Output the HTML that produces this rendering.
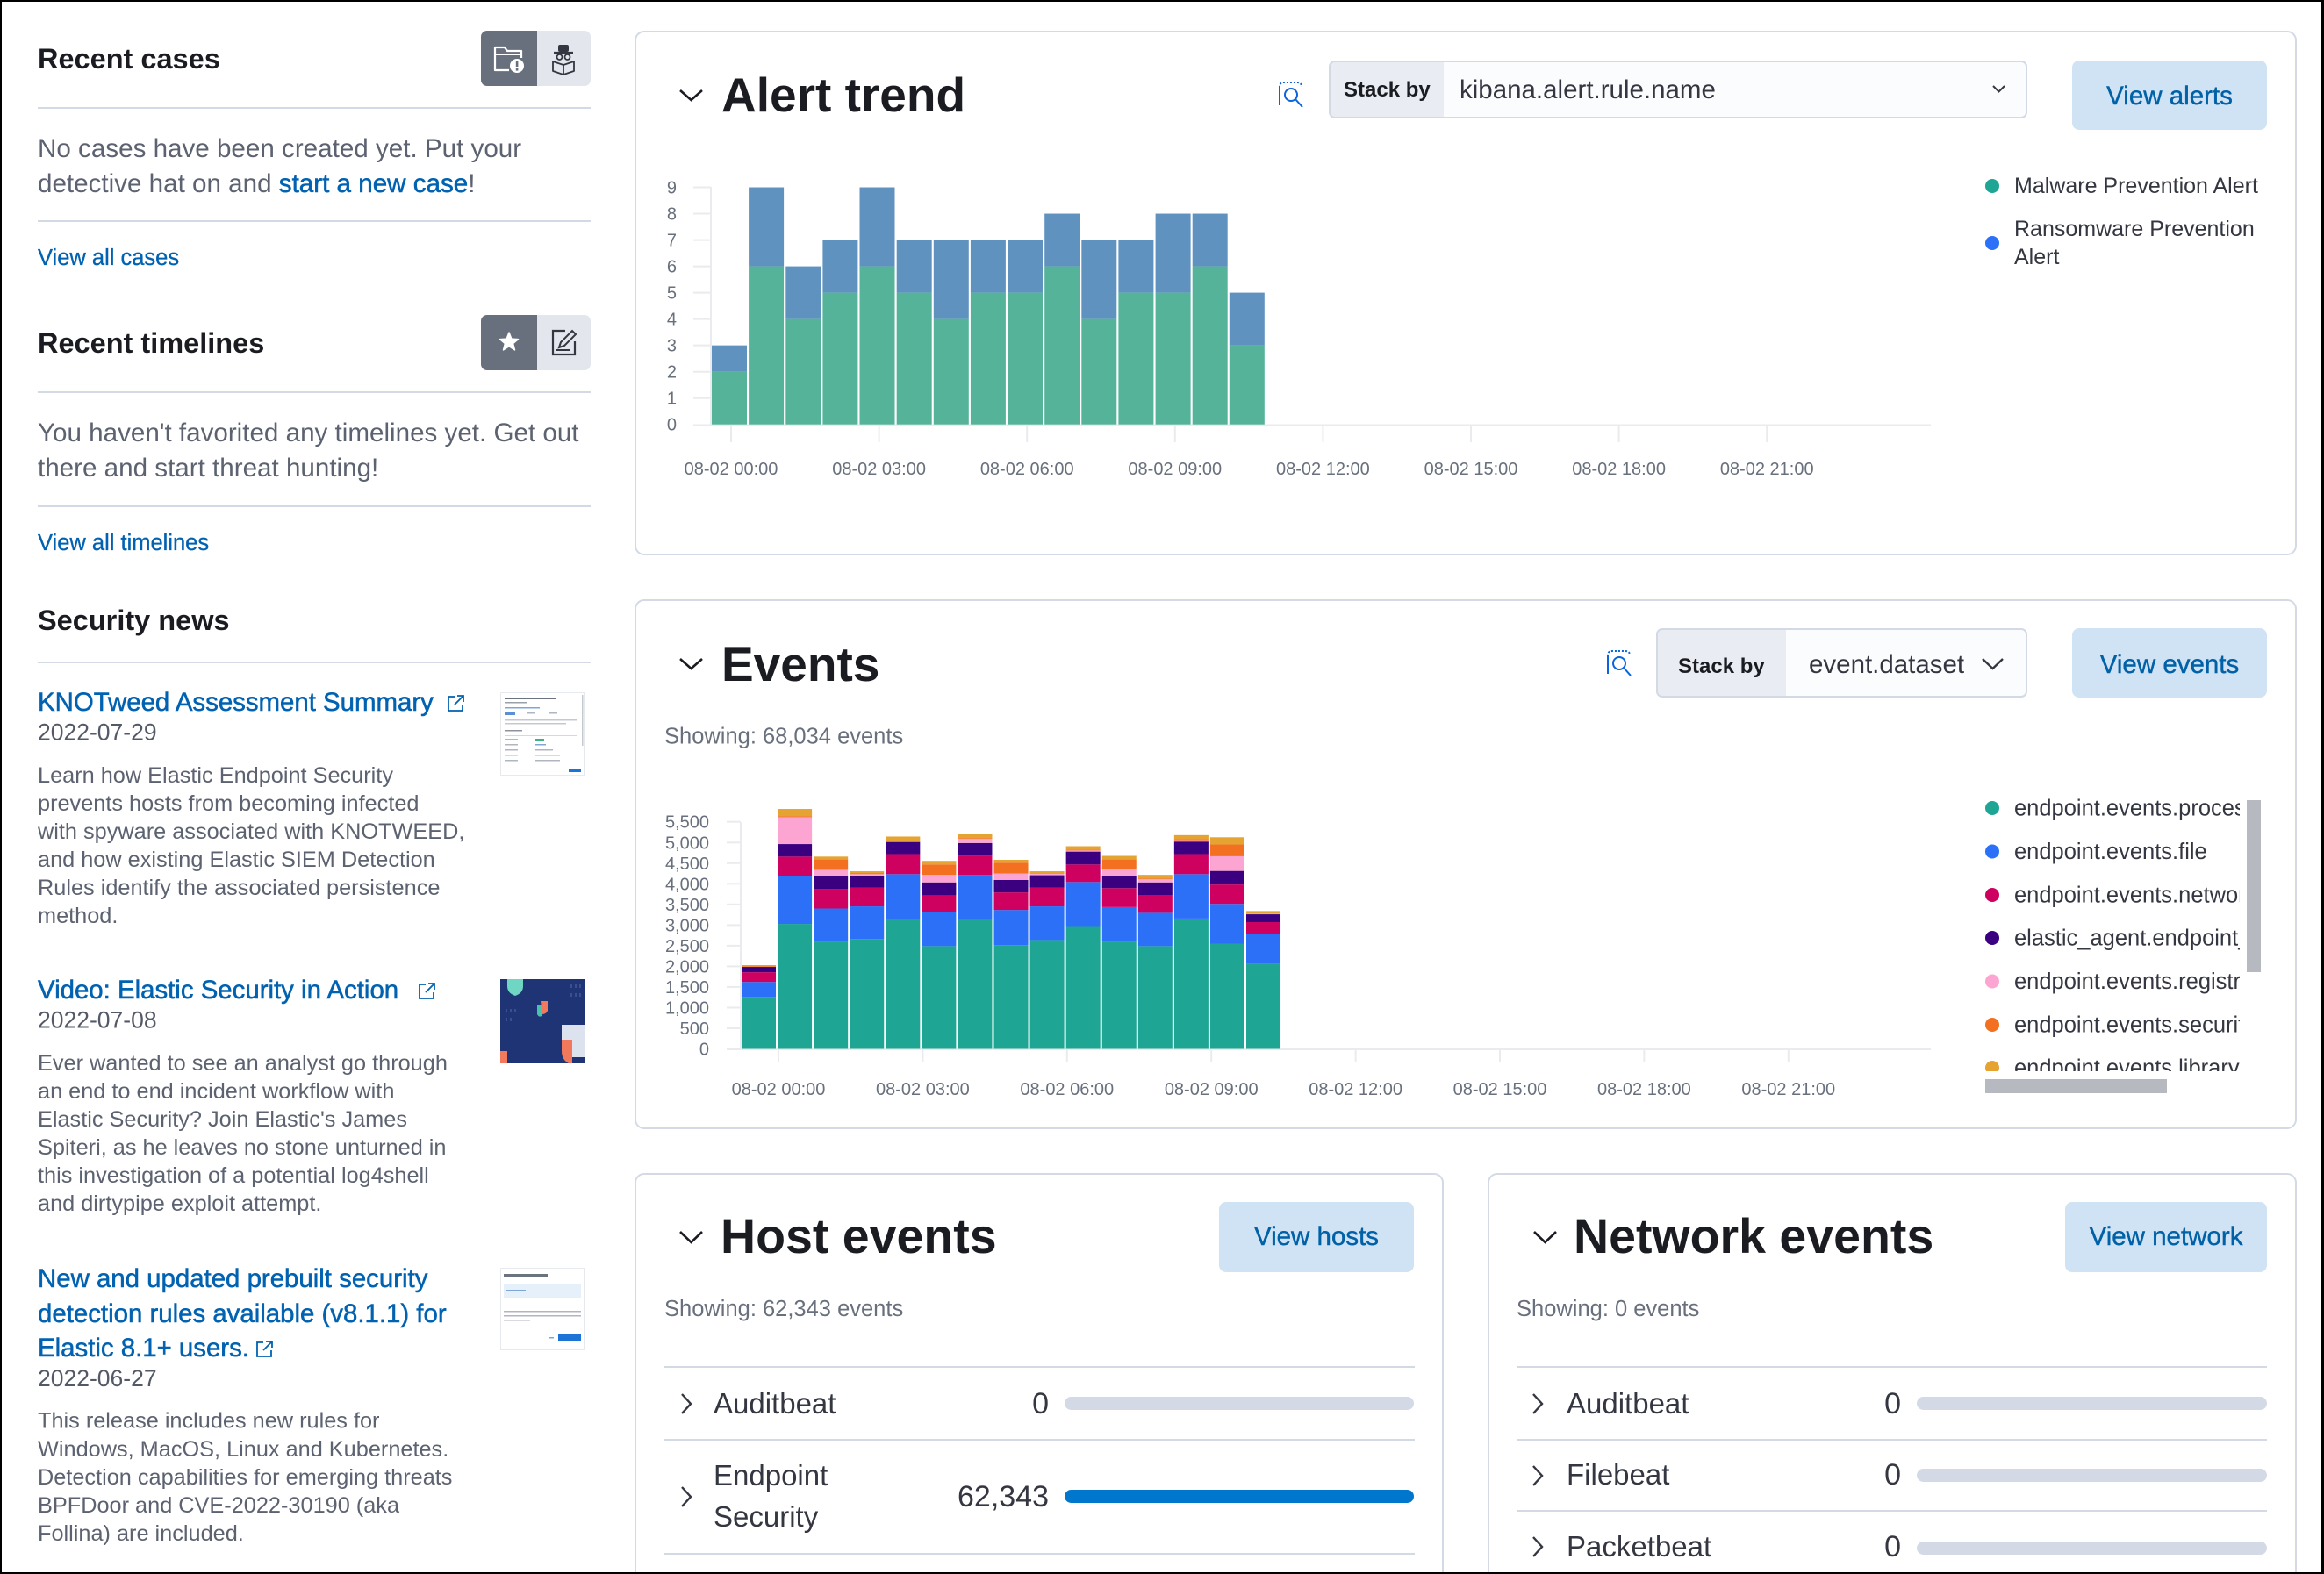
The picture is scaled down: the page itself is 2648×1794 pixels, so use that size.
<!DOCTYPE html>
<html><head><meta charset="utf-8"><style>
html,body{margin:0;padding:0;background:#fff;}
body{width:2648px;height:1794px;overflow:hidden;}
svg{display:block;font-family:"Liberation Sans",Arial,sans-serif;}
</style></head><body>
<svg width="2648" height="1794" viewBox="0 0 2648 1794" xmlns="http://www.w3.org/2000/svg">
<defs>
<clipPath id="legclip"><rect x="2250" y="895" width="302" height="326"/></clipPath>
</defs>
<rect width="2648" height="1794" fill="#fff"/>

<!-- ================= LEFT COLUMN ================= -->
<text x="43" y="78" font-size="32.5" font-weight="bold" fill="#1A1C21">Recent cases</text>
<rect x="548" y="35" width="125" height="63" rx="7" fill="#E3E7ED"/>
<path d="M555,35 H612 V98 H555 A7,7 0 0 1 548,91 V42 A7,7 0 0 1 555,35 Z" fill="#69707D"/>
<path d="M580,80 H564 V54 H575 L578,58 H594 V66" fill="none" stroke="#fff" stroke-width="2.2" stroke-linejoin="round"/>
<path d="M564,62 H594" stroke="#fff" stroke-width="2"/>
<circle cx="589" cy="75" r="8" fill="#fff"/>
<rect x="587.8" y="69" width="2.6" height="7" fill="#69707D"/>
<rect x="587.8" y="78" width="2.6" height="2.6" fill="#69707D"/>
<rect x="636" y="51" width="12" height="8" rx="2" fill="#343741"/>
<path d="M631,60 H653" stroke="#343741" stroke-width="2.2"/>
<circle cx="637.5" cy="65" r="3" fill="none" stroke="#343741" stroke-width="1.8"/>
<circle cx="646.5" cy="65" r="3" fill="none" stroke="#343741" stroke-width="1.8"/>
<path d="M630,70 L642,74 L654,70 V81 L642,85 L630,81 Z M642,74 V85" fill="none" stroke="#343741" stroke-width="1.8" stroke-linejoin="round"/>

<line x1="43" y1="123" x2="673" y2="123" stroke="#D3DAE6" stroke-width="2"/>
<text x="43" y="179" font-size="29.6" fill="#5C6270">No cases have been created yet. Put your</text>
<text x="43" y="219" font-size="29.6" fill="#5C6270">detective hat on and <tspan fill="#0062B1" stroke="#0062B1" stroke-width="0.5">start a new case</tspan>!</text>
<line x1="43" y1="252" x2="673" y2="252" stroke="#D3DAE6" stroke-width="2"/>
<text x="43" y="302" font-size="25.5" fill="#0062B1" stroke="#0062B1" stroke-width="0.3">View all cases</text>

<text x="43" y="402" font-size="32.5" font-weight="bold" fill="#1A1C21">Recent timelines</text>
<rect x="548" y="359" width="125" height="63" rx="7" fill="#E3E7ED"/>
<path d="M555,359 H612 V422 H555 A7,7 0 0 1 548,415 V366 A7,7 0 0 1 555,359 Z" fill="#69707D"/>
<polygon points="580,379 582.8,386.1 590.5,386.6 584.6,391.5 586.5,398.9 580,394.8 573.5,398.9 575.4,391.5 569.5,386.6 577.2,386.1" fill="#fff" stroke="#fff" stroke-width="1.5" stroke-linejoin="round"/>
<path d="M644,377 H630 V404 H655 V389" fill="none" stroke="#343741" stroke-width="2.2"/>
<path d="M637,396 L639,390 L652,377 L656,381 L643,394 Z" fill="none" stroke="#343741" stroke-width="2"/>
<path d="M634,399 H650" stroke="#343741" stroke-width="2"/>

<line x1="43" y1="447" x2="673" y2="447" stroke="#D3DAE6" stroke-width="2"/>
<text x="43" y="503" font-size="29.6" fill="#5C6270">You haven't favorited any timelines yet. Get out</text>
<text x="43" y="543" font-size="29.6" fill="#5C6270">there and start threat hunting!</text>
<line x1="43" y1="577" x2="673" y2="577" stroke="#D3DAE6" stroke-width="2"/>
<text x="43" y="627" font-size="25.5" fill="#0062B1" stroke="#0062B1" stroke-width="0.3">View all timelines</text>

<text x="43" y="718" font-size="32.5" font-weight="bold" fill="#1A1C21">Security news</text>
<line x1="43" y1="755" x2="673" y2="755" stroke="#D3DAE6" stroke-width="2"/>

<!-- news 1 -->
<text x="43" y="810" font-size="29.4" fill="#0062B1" stroke="#0062B1" stroke-width="0.5">KNOTweed Assessment Summary</text>
<g fill="none" stroke="#0062B1" stroke-width="1.8">
<path d="M518,794 H511 V810 H527 V803"/><path d="M518,803 L528,793 M521,793 H528 V800"/>
</g>
<text x="43" y="843.5" font-size="26.5" fill="#535966">2022-07-29</text>
<g font-size="25.3" fill="#5C6270">
<text x="43" y="892">Learn how Elastic Endpoint Security</text>
<text x="43" y="924">prevents hosts from becoming infected</text>
<text x="43" y="956">with spyware associated with KNOTWEED,</text>
<text x="43" y="988">and how existing Elastic SIEM Detection</text>
<text x="43" y="1020">Rules identify the associated persistence</text>
<text x="43" y="1052">method.</text>
</g>
<rect x="570.5" y="789.5" width="95" height="94" fill="#fff" stroke="#E6E9EE" stroke-width="1"/>
<rect x="575" y="795" width="58" height="2" fill="#6b7280"/>
<rect x="575" y="800" width="25" height="1.5" fill="#9aa1ab"/>
<rect x="575" y="806" width="40" height="1.5" fill="#7da7d9"/>
<rect x="575" y="812" width="12" height="3" fill="#5c8fd6"/>
<rect x="600" y="812" width="10" height="1.5" fill="#b0b6bf"/>
<rect x="625" y="812" width="10" height="1.5" fill="#b0b6bf"/>
<rect x="575" y="820" width="82" height="1.5" fill="#c4c9d0"/>
<rect x="575" y="824" width="70" height="1.5" fill="#c4c9d0"/>
<rect x="575" y="832" width="20" height="1.5" fill="#8d939c"/>
<rect x="575" y="838" width="82" height="1" fill="#d5d9de"/>
<rect x="575" y="842" width="15" height="1.5" fill="#b0b6bf"/><rect x="610" y="842" width="10" height="3" fill="#3fb37f"/>
<rect x="575" y="848" width="15" height="1.5" fill="#b0b6bf"/><rect x="610" y="848" width="12" height="1.5" fill="#7da7d9"/>
<rect x="575" y="854" width="15" height="1.5" fill="#b0b6bf"/><rect x="610" y="854" width="20" height="1.5" fill="#b0b6bf"/>
<rect x="575" y="860" width="15" height="1.5" fill="#b0b6bf"/><rect x="610" y="860" width="28" height="1.5" fill="#b0b6bf"/>
<rect x="575" y="866" width="15" height="1.5" fill="#b0b6bf"/><rect x="610" y="866" width="28" height="1.5" fill="#b0b6bf"/>
<rect x="663" y="792" width="1.5" height="58" fill="#c4c9d0"/>
<rect x="648" y="876" width="14" height="4" fill="#1E73D6"/>

<!-- news 2 -->
<text x="43" y="1138" font-size="29.4" fill="#0062B1" stroke="#0062B1" stroke-width="0.5">Video: Elastic Security in Action</text>
<g fill="none" stroke="#0062B1" stroke-width="1.8">
<path d="M485,1122 H478 V1138 H494 V1131"/><path d="M485,1131 L495,1121 M488,1121 H495 V1128"/>
</g>
<text x="43" y="1171.6" font-size="26.5" fill="#535966">2022-07-08</text>
<g font-size="25.3" fill="#5C6270">
<text x="43" y="1220">Ever wanted to see an analyst go through</text>
<text x="43" y="1252">an end to end incident workflow with</text>
<text x="43" y="1284">Elastic Security? Join Elastic's James</text>
<text x="43" y="1316">Spiteri, as he leaves no stone unturned in</text>
<text x="43" y="1348">this investigation of a potential log4shell</text>
<text x="43" y="1380">and dirtypipe exploit attempt.</text>
</g>
<rect x="570" y="1116" width="96" height="96" fill="#1F3474"/>
<path d="M578,1116 H596 V1124 Q596,1132 587,1135 Q578,1132 578,1124 Z" fill="#6FD6C4"/>
<path d="M616,1141 H624 V1152 Q622,1156 618,1156 Z" fill="#F2795C"/>
<path d="M612,1146 H617 V1158 Q614,1160 612,1156 Z" fill="#48C1AE"/>
<path d="M640,1168 H666 V1205 H650 Q640,1200 640,1190 Z" fill="#DDE3EE"/>
<path d="M640,1185 H652 V1212 H648 Q640,1208 640,1198 Z" fill="#F2795C"/>
<path d="M570,1198 H578 V1212 H570 Z" fill="#F2795C"/>
<g fill="#3a4f8f"><rect x="576" y="1150" width="2" height="4"/><rect x="581" y="1150" width="2" height="4"/><rect x="586" y="1150" width="2" height="4"/><rect x="576" y="1160" width="2" height="4"/><rect x="581" y="1160" width="2" height="4"/><rect x="650" y="1122" width="2" height="4"/><rect x="655" y="1122" width="2" height="4"/><rect x="660" y="1122" width="2" height="4"/><rect x="650" y="1132" width="2" height="4"/><rect x="655" y="1132" width="2" height="4"/><rect x="660" y="1132" width="2" height="4"/></g>

<!-- news 3 -->
<g font-size="29.4" fill="#0062B1" stroke="#0062B1" stroke-width="0.5">
<text x="43" y="1467">New and updated prebuilt security</text>
<text x="43" y="1507">detection rules available (v8.1.1) for</text>
<text x="43" y="1546">Elastic 8.1+ users.</text>
</g>
<g fill="none" stroke="#0062B1" stroke-width="1.8">
<path d="M300,1530 H293 V1546 H309 V1539"/><path d="M300,1539 L310,1529 M303,1529 H310 V1536"/>
</g>
<text x="43" y="1580" font-size="26.5" fill="#535966">2022-06-27</text>
<g font-size="25.3" fill="#5C6270">
<text x="43" y="1627.5">This release includes new rules for</text>
<text x="43" y="1660">Windows, MacOS, Linux and Kubernetes.</text>
<text x="43" y="1692">Detection capabilities for emerging threats</text>
<text x="43" y="1724">BPFDoor and CVE-2022-30190 (aka</text>
<text x="43" y="1756">Follina) are included.</text>
</g>
<rect x="570.5" y="1445.5" width="95" height="93" fill="#fff" stroke="#E6E9EE" stroke-width="1"/>
<rect x="574" y="1452" width="50" height="3" fill="#6b7280"/>
<rect x="574" y="1463" width="88" height="16" fill="#E6F0FA"/>
<rect x="577" y="1470" width="22" height="1.5" fill="#7da7d9"/>
<rect x="574" y="1494" width="88" height="1.5" fill="#b0b6bf"/>
<rect x="574" y="1499" width="88" height="1.5" fill="#b0b6bf"/>
<rect x="574" y="1504" width="30" height="1.5" fill="#b0b6bf"/>
<rect x="636" y="1520" width="26" height="9" fill="#1E73D6"/>
<rect x="626" y="1524" width="5" height="1.5" fill="#7da7d9"/>

<!-- ================= ALERT TREND PANEL ================= -->
<rect x="724" y="36" width="1892" height="596" rx="10" fill="#fff" stroke="#D3DAE6" stroke-width="2"/>
<polyline points="775,103 787.5,114 800,103" fill="none" stroke="#1A1C21" stroke-width="2.6"/>
<text x="822" y="127" font-size="55" font-weight="bold" fill="#1A1C21">Alert trend</text>
<g fill="none" stroke="#0B64DD" stroke-width="2">
<path d="M1458,120 V99 Q1458,94 1463,94 H1478 Q1483,94 1483,99" stroke-dasharray="2 2"/>
<path d="M1458,100 V120"/>
<circle cx="1471" cy="108" r="7"/>
<path d="M1476,113 L1484,122"/>
</g>
<rect x="1515" y="70" width="794" height="64" rx="6" fill="#FBFCFD"/>
<path d="M1521,70 H1645 V134 H1521 A6,6 0 0 1 1515,128 V76 A6,6 0 0 1 1521,70 Z" fill="#E9EDF3"/>
<rect x="1515" y="70" width="794" height="64" rx="6" fill="none" stroke="#D3DAE6" stroke-width="2"/>
<text x="1531" y="110" font-size="24" font-weight="bold" fill="#1A1C21">Stack by</text>
<text x="1663" y="112" font-size="29.5" fill="#343741">kibana.alert.rule.name</text>
<polyline points="2271,98 2277.5,104.5 2284,98" fill="none" stroke="#343741" stroke-width="2"/>
<rect x="2361" y="69" width="222" height="79" rx="8" fill="#D0E3F5"/>
<text x="2472" y="119" font-size="29.5" fill="#0061A6" stroke="#0061A6" stroke-width="0.4" text-anchor="middle">View alerts</text>

<g stroke="#E9EBEE" stroke-width="2">
<line x1="790" y1="484.5" x2="2200" y2="484.5"/>
<line x1="810" y1="213" x2="810" y2="484"/>
<line x1="790" y1="453.7" x2="810" y2="453.7"/><line x1="790" y1="423.7" x2="810" y2="423.7"/>
<line x1="790" y1="393.6" x2="810" y2="393.6"/><line x1="790" y1="363.6" x2="810" y2="363.6"/>
<line x1="790" y1="333.6" x2="810" y2="333.6"/><line x1="790" y1="303.6" x2="810" y2="303.6"/>
<line x1="790" y1="273.6" x2="810" y2="273.6"/><line x1="790" y1="243.5" x2="810" y2="243.5"/>
<line x1="790" y1="213.5" x2="810" y2="213.5"/>
<line x1="833" y1="484" x2="833" y2="504"/><line x1="1001.6" y1="484" x2="1001.6" y2="504"/>
<line x1="1170.2" y1="484" x2="1170.2" y2="504"/><line x1="1338.8" y1="484" x2="1338.8" y2="504"/>
<line x1="1507.4" y1="484" x2="1507.4" y2="504"/><line x1="1676" y1="484" x2="1676" y2="504"/>
<line x1="1844.6" y1="484" x2="1844.6" y2="504"/><line x1="2013.2" y1="484" x2="2013.2" y2="504"/>
</g>
<g font-size="20" fill="#69707D" text-anchor="end">
<text x="771" y="490.7">0</text><text x="771" y="460.7">1</text><text x="771" y="430.7">2</text>
<text x="771" y="400.6">3</text><text x="771" y="370.6">4</text><text x="771" y="340.6">5</text>
<text x="771" y="310.6">6</text><text x="771" y="280.6">7</text><text x="771" y="250.5">8</text>
<text x="771" y="220.5">9</text>
</g>
<g font-size="20" fill="#69707D" text-anchor="middle">
<text x="833" y="541">08-02 00:00</text><text x="1001.6" y="541">08-02 03:00</text>
<text x="1170.2" y="541">08-02 06:00</text><text x="1338.8" y="541">08-02 09:00</text>
<text x="1507.4" y="541">08-02 12:00</text><text x="1676" y="541">08-02 15:00</text>
<text x="1844.6" y="541">08-02 18:00</text><text x="2013.2" y="541">08-02 21:00</text>
</g>
<g transform="translate(0 483.7) scale(1 -30.02)">
<g fill="#54B399">
<rect x="811" y="0" width="40" height="2"/><rect x="853.1" y="0" width="40" height="6"/>
<rect x="895.3" y="0" width="40" height="4"/><rect x="937.4" y="0" width="40" height="5"/>
<rect x="979.5" y="0" width="40" height="6"/><rect x="1021.7" y="0" width="40" height="5"/>
<rect x="1063.8" y="0" width="40" height="4"/><rect x="1105.9" y="0" width="40" height="5"/>
<rect x="1148" y="0" width="40" height="5"/><rect x="1190.2" y="0" width="40" height="6"/>
<rect x="1232.3" y="0" width="40" height="4"/><rect x="1274.4" y="0" width="40" height="5"/>
<rect x="1316.6" y="0" width="40" height="5"/><rect x="1358.7" y="0" width="40" height="6"/>
<rect x="1400.8" y="0" width="40" height="3"/>
</g>
<g fill="#6092C0">
<rect x="811" y="2" width="40" height="1"/><rect x="853.1" y="6" width="40" height="3"/>
<rect x="895.3" y="4" width="40" height="2"/><rect x="937.4" y="5" width="40" height="2"/>
<rect x="979.5" y="6" width="40" height="3"/><rect x="1021.7" y="5" width="40" height="2"/>
<rect x="1063.8" y="4" width="40" height="3"/><rect x="1105.9" y="5" width="40" height="2"/>
<rect x="1148" y="5" width="40" height="2"/><rect x="1190.2" y="6" width="40" height="2"/>
<rect x="1232.3" y="4" width="40" height="3"/><rect x="1274.4" y="5" width="40" height="2"/>
<rect x="1316.6" y="5" width="40" height="3"/><rect x="1358.7" y="6" width="40" height="2"/>
<rect x="1400.8" y="3" width="40" height="2"/>
</g>
</g>
<circle cx="2270" cy="212" r="8" fill="#1EA593"/>
<text x="2295" y="220" font-size="25" fill="#343741">Malware Prevention Alert</text>
<circle cx="2270" cy="277" r="8" fill="#2B70F7"/>
<text x="2295" y="269" font-size="25" fill="#343741">Ransomware Prevention</text>
<text x="2295" y="301" font-size="25" fill="#343741">Alert</text>

<!-- ================= EVENTS PANEL ================= -->
<rect x="724" y="684" width="1892" height="602" rx="10" fill="#fff" stroke="#D3DAE6" stroke-width="2"/>
<polyline points="775,751 787.5,762 800,751" fill="none" stroke="#1A1C21" stroke-width="2.6"/>
<text x="822" y="776" font-size="55" font-weight="bold" fill="#1A1C21">Events</text>
<g fill="none" stroke="#0B64DD" stroke-width="2">
<path d="M1832,768 V747 Q1832,742 1837,742 H1852 Q1857,742 1857,747" stroke-dasharray="2 2"/>
<path d="M1832,748 V768"/>
<circle cx="1845" cy="756" r="7"/>
<path d="M1850,761 L1858,770"/>
</g>
<rect x="1888" y="717" width="421" height="77" rx="6" fill="#FBFCFD"/>
<path d="M1894,717 H2035 V794 H1894 A6,6 0 0 1 1888,788 V723 A6,6 0 0 1 1894,717 Z" fill="#E9EDF3"/>
<rect x="1888" y="717" width="421" height="77" rx="6" fill="none" stroke="#D3DAE6" stroke-width="2"/>
<text x="1912" y="767" font-size="24" font-weight="bold" fill="#1A1C21">Stack by</text>
<text x="2061" y="767" font-size="29.5" fill="#343741">event.dataset</text>
<polyline points="2259,751 2270.5,762 2282,751" fill="none" stroke="#343741" stroke-width="2.4"/>
<rect x="2361" y="716" width="222" height="79" rx="8" fill="#D0E3F5"/>
<text x="2472" y="767" font-size="29.5" fill="#0061A6" stroke="#0061A6" stroke-width="0.4" text-anchor="middle">View events</text>
<text x="757" y="847.5" font-size="25.5" fill="#69707D">Showing: 68,034 events</text>

<g stroke="#E9EBEE" stroke-width="2">
<line x1="828" y1="1196" x2="2200" y2="1196"/>
<line x1="844" y1="937" x2="844" y2="1195"/>
<line x1="828" y1="1172" x2="844" y2="1172"/><line x1="828" y1="1148.5" x2="844" y2="1148.5"/>
<line x1="828" y1="1124.9" x2="844" y2="1124.9"/><line x1="828" y1="1101.4" x2="844" y2="1101.4"/>
<line x1="828" y1="1077.9" x2="844" y2="1077.9"/><line x1="828" y1="1054.4" x2="844" y2="1054.4"/>
<line x1="828" y1="1030.8" x2="844" y2="1030.8"/><line x1="828" y1="1007.3" x2="844" y2="1007.3"/>
<line x1="828" y1="983.8" x2="844" y2="983.8"/><line x1="828" y1="960.3" x2="844" y2="960.3"/>
<line x1="828" y1="936.7" x2="844" y2="936.7"/>
<line x1="887" y1="1196" x2="887" y2="1211"/><line x1="1051.4" y1="1196" x2="1051.4" y2="1211"/>
<line x1="1215.8" y1="1196" x2="1215.8" y2="1211"/><line x1="1380.2" y1="1196" x2="1380.2" y2="1211"/>
<line x1="1544.6" y1="1196" x2="1544.6" y2="1211"/><line x1="1709" y1="1196" x2="1709" y2="1211"/>
<line x1="1873.4" y1="1196" x2="1873.4" y2="1211"/><line x1="2037.8" y1="1196" x2="2037.8" y2="1211"/>
</g>
<g font-size="20" fill="#69707D" text-anchor="end">
<text x="808" y="1202.5">0</text><text x="808" y="1179">500</text><text x="808" y="1155.5">1,000</text>
<text x="808" y="1131.9">1,500</text><text x="808" y="1108.4">2,000</text><text x="808" y="1084.9">2,500</text>
<text x="808" y="1061.4">3,000</text><text x="808" y="1037.8">3,500</text><text x="808" y="1014.3">4,000</text>
<text x="808" y="990.8">4,500</text><text x="808" y="967.3">5,000</text><text x="808" y="943.7">5,500</text>
</g>
<g font-size="20" fill="#69707D" text-anchor="middle">
<text x="887" y="1248">08-02 00:00</text><text x="1051.4" y="1248">08-02 03:00</text>
<text x="1215.8" y="1248">08-02 06:00</text><text x="1380.2" y="1248">08-02 09:00</text>
<text x="1544.6" y="1248">08-02 12:00</text><text x="1709" y="1248">08-02 15:00</text>
<text x="1873.4" y="1248">08-02 18:00</text><text x="2037.8" y="1248">08-02 21:00</text>
</g>
<g transform="translate(720 660) scale(0.510204 0.408163)">
<g fill="#1EA593">
<rect x="245" y="1167" width="76.5" height="145"/><rect x="325.5" y="963" width="76.5" height="349"/>
<rect x="406" y="1012" width="76.5" height="300"/><rect x="486.5" y="1005" width="76.5" height="307"/>
<rect x="567" y="949" width="76.5" height="363"/><rect x="647.5" y="1025" width="76.5" height="287"/>
<rect x="728" y="952" width="76.5" height="360"/><rect x="808.5" y="1022" width="76.5" height="290"/>
<rect x="889" y="1008" width="76.5" height="304"/><rect x="969.5" y="969" width="76.5" height="343"/>
<rect x="1050" y="1012" width="76.5" height="300"/><rect x="1130.5" y="1025" width="76.5" height="287"/>
<rect x="1211" y="948" width="76.5" height="364"/><rect x="1291.5" y="1018" width="76.5" height="294"/>
<rect x="1372" y="1074" width="76.5" height="238"/>
</g>
<g fill="#2B70F7">
<rect x="245" y="1125" width="76.5" height="42"/><rect x="325.5" y="830" width="76.5" height="133"/>
<rect x="406" y="920" width="76.5" height="92"/><rect x="486.5" y="914" width="76.5" height="91"/>
<rect x="567" y="824" width="76.5" height="125"/><rect x="647.5" y="930" width="76.5" height="95"/>
<rect x="728" y="826" width="76.5" height="126"/><rect x="808.5" y="924" width="76.5" height="98"/>
<rect x="889" y="914" width="76.5" height="94"/><rect x="969.5" y="846" width="76.5" height="123"/>
<rect x="1050" y="916" width="76.5" height="96"/><rect x="1130.5" y="932" width="76.5" height="93"/>
<rect x="1211" y="824" width="76.5" height="124"/><rect x="1291.5" y="907" width="76.5" height="111"/>
<rect x="1372" y="992" width="76.5" height="82"/>
</g>
<g fill="#CE0060">
<rect x="245" y="1098" width="76.5" height="27"/><rect x="325.5" y="775" width="76.5" height="55"/>
<rect x="406" y="865" width="76.5" height="55"/><rect x="486.5" y="862" width="76.5" height="52"/>
<rect x="567" y="768" width="76.5" height="56"/><rect x="647.5" y="883" width="76.5" height="47"/>
<rect x="728" y="772" width="76.5" height="54"/><rect x="808.5" y="875" width="76.5" height="49"/>
<rect x="889" y="862" width="76.5" height="52"/><rect x="969.5" y="797" width="76.5" height="49"/>
<rect x="1050" y="863" width="76.5" height="53"/><rect x="1130.5" y="882" width="76.5" height="50"/>
<rect x="1211" y="768" width="76.5" height="56"/><rect x="1291.5" y="853" width="76.5" height="54"/>
<rect x="1372" y="958" width="76.5" height="34"/>
</g>
<g fill="#3A007F">
<rect x="245" y="1083" width="76.5" height="15"/><rect x="325.5" y="740" width="76.5" height="35"/>
<rect x="406" y="830" width="76.5" height="35"/><rect x="486.5" y="830" width="76.5" height="32"/>
<rect x="567" y="734" width="76.5" height="34"/><rect x="647.5" y="847" width="76.5" height="36"/>
<rect x="728" y="737" width="76.5" height="35"/><rect x="808.5" y="840" width="76.5" height="35"/>
<rect x="889" y="827" width="76.5" height="35"/><rect x="969.5" y="761" width="76.5" height="36"/>
<rect x="1050" y="829" width="76.5" height="34"/><rect x="1130.5" y="847" width="76.5" height="35"/>
<rect x="1211" y="733" width="76.5" height="35"/><rect x="1291.5" y="815" width="76.5" height="38"/>
<rect x="1372" y="936" width="76.5" height="22"/>
</g>
<g fill="#FCA5D3">
<rect x="325.5" y="665" width="76.5" height="75"/>
<rect x="406" y="812" width="76.5" height="18"/><rect x="486.5" y="824" width="76.5" height="6"/>
<rect x="567" y="733" width="76.5" height="1"/><rect x="647.5" y="826" width="76.5" height="21"/>
<rect x="728" y="725" width="76.5" height="12"/><rect x="808.5" y="822" width="76.5" height="18"/>
<rect x="889" y="823" width="76.5" height="4"/><rect x="969.5" y="758" width="76.5" height="3"/>
<rect x="1050" y="811" width="76.5" height="18"/><rect x="1130.5" y="838" width="76.5" height="9"/>
<rect x="1211" y="729" width="76.5" height="4"/><rect x="1291.5" y="774" width="76.5" height="41"/>
<rect x="1372" y="935" width="76.5" height="1"/>
</g>
<g fill="#F37020">
<rect x="245" y="1081" width="76.5" height="2"/><rect x="325.5" y="662" width="76.5" height="3"/>
<rect x="406" y="783" width="76.5" height="29"/><rect x="486.5" y="821" width="76.5" height="3"/>
<rect x="567" y="731" width="76.5" height="2"/><rect x="647.5" y="797" width="76.5" height="29"/>
<rect x="728" y="723" width="76.5" height="2"/><rect x="808.5" y="792" width="76.5" height="30"/>
<rect x="889" y="822" width="76.5" height="1"/><rect x="969.5" y="756" width="76.5" height="2"/>
<rect x="1050" y="783" width="76.5" height="28"/><rect x="1130.5" y="836" width="76.5" height="2"/>
<rect x="1211" y="726" width="76.5" height="3"/><rect x="1291.5" y="741" width="76.5" height="33"/>
<rect x="1372" y="934" width="76.5" height="1"/>
</g>
<g fill="#E5A331">
<rect x="245" y="1078" width="76.5" height="3"/><rect x="325.5" y="642" width="76.5" height="20"/>
<rect x="406" y="775" width="76.5" height="8"/><rect x="486.5" y="816" width="76.5" height="5"/>
<rect x="567" y="719" width="76.5" height="12"/><rect x="647.5" y="787" width="76.5" height="10"/>
<rect x="728" y="711" width="76.5" height="12"/><rect x="808.5" y="784" width="76.5" height="8"/>
<rect x="889" y="816" width="76.5" height="6"/><rect x="969.5" y="746" width="76.5" height="10"/>
<rect x="1050" y="773" width="76.5" height="10"/><rect x="1130.5" y="826" width="76.5" height="10"/>
<rect x="1211" y="715" width="76.5" height="11"/><rect x="1291.5" y="721" width="76.5" height="20"/>
<rect x="1372" y="927" width="76.5" height="7"/>
</g>
</g>
<g clip-path="url(#legclip)" font-size="25.5" fill="#343741">
<circle cx="2270" cy="921" r="8" fill="#1EA593"/><text x="2295" y="929.5">endpoint.events.process</text>
<circle cx="2270" cy="970.5" r="8" fill="#2B70F7"/><text x="2295" y="979">endpoint.events.file</text>
<circle cx="2270" cy="1020" r="8" fill="#CE0060"/><text x="2295" y="1028.5">endpoint.events.network</text>
<circle cx="2270" cy="1069" r="8" fill="#3A007F"/><text x="2295" y="1077.5">elastic_agent.endpoint_security</text>
<circle cx="2270" cy="1118.5" r="8" fill="#FCA5D3"/><text x="2295" y="1127">endpoint.events.registry</text>
<circle cx="2270" cy="1168" r="8" fill="#F37020"/><text x="2295" y="1176.5">endpoint.events.security</text>
<circle cx="2270" cy="1217" r="8" fill="#E5A331"/><text x="2295" y="1225.5">endpoint.events.library</text>
</g>
<rect x="2560" y="912" width="16" height="196" fill="#B6B9BF"/>
<rect x="2262" y="1230" width="207" height="16" fill="#B6B9BF"/>

<!-- ================= HOST EVENTS ================= -->
<path d="M724,1794 V1348 A10,10 0 0 1 734,1338 H1634 A10,10 0 0 1 1644,1348 V1794" fill="#fff" stroke="#D3DAE6" stroke-width="2"/>
<polyline points="775,1404 787.5,1416 800,1404" fill="none" stroke="#1A1C21" stroke-width="2.6"/>
<text x="821" y="1428" font-size="55.5" font-weight="bold" fill="#1A1C21">Host events</text>
<rect x="1389" y="1370" width="222" height="80" rx="8" fill="#D0E3F5"/>
<text x="1500" y="1419" font-size="29.5" fill="#0061A6" stroke="#0061A6" stroke-width="0.4" text-anchor="middle">View hosts</text>
<text x="757" y="1500" font-size="25.5" fill="#69707D">Showing: 62,343 events</text>
<g stroke="#D3DAE6" stroke-width="2">
<line x1="757" y1="1558" x2="1612" y2="1558"/>
<line x1="757" y1="1641" x2="1612" y2="1641"/>
<line x1="757" y1="1771" x2="1612" y2="1771"/>
</g>
<g fill="none" stroke="#343741" stroke-width="2.4">
<polyline points="777,1589 787,1600 777,1611"/>
<polyline points="777,1695 787,1706 777,1717"/>
</g>
<g font-size="33" fill="#343741">
<text x="813" y="1611">Auditbeat</text>
<text x="813" y="1693">Endpoint</text>
<text x="813" y="1740">Security</text>
</g>
<g font-size="34" fill="#343741" text-anchor="end">
<text x="1195" y="1611">0</text>
<text x="1195" y="1717">62,343</text>
</g>
<rect x="1213" y="1592" width="398" height="15" rx="7.5" fill="#D3DAE6"/>
<rect x="1213" y="1698" width="398" height="15" rx="7.5" fill="#0077CC"/>

<!-- ================= NETWORK EVENTS ================= -->
<path d="M1696,1794 V1348 A10,10 0 0 1 1706,1338 H2606 A10,10 0 0 1 2616,1348 V1794" fill="#fff" stroke="#D3DAE6" stroke-width="2"/>
<polyline points="1748,1404 1760.5,1416 1773,1404" fill="none" stroke="#1A1C21" stroke-width="2.6"/>
<text x="1793" y="1428" font-size="55.5" font-weight="bold" fill="#1A1C21">Network events</text>
<rect x="2353" y="1370" width="230" height="80" rx="8" fill="#D0E3F5"/>
<text x="2468" y="1419" font-size="29.5" fill="#0061A6" stroke="#0061A6" stroke-width="0.4" text-anchor="middle">View network</text>
<text x="1728" y="1500" font-size="25.5" fill="#69707D">Showing: 0 events</text>
<g stroke="#D3DAE6" stroke-width="2">
<line x1="1728" y1="1558" x2="2583" y2="1558"/>
<line x1="1728" y1="1641" x2="2583" y2="1641"/>
<line x1="1728" y1="1722" x2="2583" y2="1722"/>
</g>
<g fill="none" stroke="#343741" stroke-width="2.4">
<polyline points="1747,1589 1757,1600 1747,1611"/>
<polyline points="1747,1671 1757,1682 1747,1693"/>
<polyline points="1747,1752 1757,1763 1747,1774"/>
</g>
<g font-size="33" fill="#343741">
<text x="1785" y="1611">Auditbeat</text>
<text x="1785" y="1692">Filebeat</text>
<text x="1785" y="1774">Packetbeat</text>
</g>
<g font-size="34" fill="#343741" text-anchor="end">
<text x="2166" y="1611">0</text>
<text x="2166" y="1692">0</text>
<text x="2166" y="1774">0</text>
</g>
<rect x="2184" y="1592" width="399" height="15" rx="7.5" fill="#D3DAE6"/>
<rect x="2184" y="1674" width="399" height="15" rx="7.5" fill="#D3DAE6"/>
<rect x="2184" y="1757" width="399" height="15" rx="7.5" fill="#D3DAE6"/>

<!-- outer black frame -->
<rect x="0" y="0" width="2648" height="2" fill="#000"/>
<rect x="0" y="0" width="2" height="1794" fill="#000"/>
<rect x="2645" y="0" width="3" height="1794" fill="#000"/>
<rect x="0" y="1792" width="2648" height="2" fill="#000"/>
</svg>
</body></html>
